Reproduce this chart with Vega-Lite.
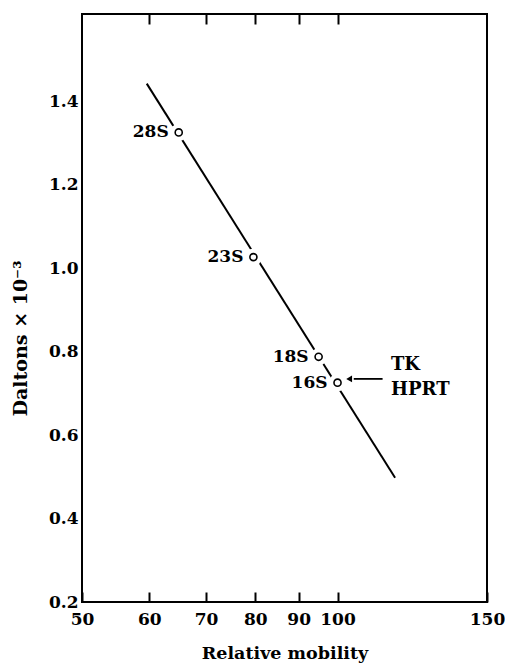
{
  "$schema": "https://vega.github.io/schema/vega-lite/v6.json",
  "width": 405,
  "height": 588,
  "autosize": "none",
  "padding": {"left": 82, "top": 14, "right": 18, "bottom": 63},
  "background": "white",
  "config": {
    "view": {"stroke": "black", "strokeWidth": 2},
    "font": "DejaVu Serif",
    "axis": {"labelFont": "DejaVu Serif", "titleFont": "DejaVu Serif", "labelFontWeight": "bold", "titleFontWeight": "bold", "labelColor": "black", "titleColor": "black", "labelFontSize": 17, "titleFontSize": 17.5, "grid": false, "domain": false}
  },
  "datasets": {
    "fit": [{"mobility": 59.6, "daltons": 1.443}, {"mobility": 116.9, "daltons": 0.498}],
    "rna": [
      {"mobility": 65, "daltons": 1.326, "label": "28S"},
      {"mobility": 79.6, "daltons": 1.027, "label": "23S"},
      {"mobility": 95, "daltons": 0.788, "label": "18S"},
      {"mobility": 100, "daltons": 0.726, "label": "16S"}
    ],
    "arrow": [{"mobility": 113, "mobility2": 104.5, "daltons": 0.735, "tip": 103.2}],
    "note": [{"mobility": 115.6, "daltons": 0.769, "text": "TK"}, {"mobility": 115.6, "daltons": 0.709, "text": "HPRT"}]
  },
  "resolve": {"axis": {"x": "independent"}},
  "layer": [
    {
      "data": {"name": "fit"},
      "mark": {"type": "line", "color": "black", "strokeWidth": 2},
      "encoding": {
        "x": {"field": "mobility", "type": "quantitative", "scale": {"type": "log", "domain": [50, 150], "nice": false},
          "axis": {"orient": "bottom", "title": "Relative mobility", "values": [50, 60, 70, 80, 90, 100, 150], "format": "d", "tickSize": -10, "tickWidth": 2, "tickColor": "black", "labelPadding": 19, "titleY": 51, "titleBaseline": "middle", "labelFlush": false, "labelOverlap": false}},
        "y": {"field": "daltons", "type": "quantitative", "scale": {"domain": [0.2, 1.61], "nice": false, "zero": false},
          "axis": {"values": [0.2, 0.4, 0.6, 0.8, 1.0, 1.2, 1.4], "format": ".1f", "ticks": false, "labelPadding": 4, "title": "Daltons × 10⁻³", "titleFontSize": 19, "titleAngle": 270, "titleAlign": "center", "titleBaseline": "middle", "titleX": -62, "titleY": 324, "labelFlush": false, "labelOverlap": false}}
      }
    },
    {
      "data": {"name": "rna"},
      "mark": {"type": "point", "shape": "circle", "filled": true, "color": "white", "size": 300, "opacity": 1},
      "encoding": {
        "x": {"field": "mobility", "type": "quantitative",
          "axis": {"orient": "top", "title": null, "values": [60, 70, 80, 90, 100], "labels": false, "tickSize": -10, "tickWidth": 2, "tickColor": "black"}},
        "y": {"field": "daltons", "type": "quantitative"}
      }
    },
    {
      "data": {"name": "rna"},
      "mark": {"type": "point", "shape": "circle", "filled": false, "color": "black", "size": 50, "strokeWidth": 1.6, "opacity": 1},
      "encoding": {
        "x": {"field": "mobility", "type": "quantitative", "axis": null},
        "y": {"field": "daltons", "type": "quantitative"}
      }
    },
    {
      "data": {"name": "rna"},
      "mark": {"type": "text", "align": "right", "baseline": "middle", "dx": -10, "fontSize": 17, "fontWeight": "bold", "font": "DejaVu Serif", "color": "black"},
      "encoding": {
        "x": {"field": "mobility", "type": "quantitative", "axis": null},
        "y": {"field": "daltons", "type": "quantitative"},
        "text": {"field": "label"}
      }
    },
    {
      "data": {"name": "arrow"},
      "mark": {"type": "rule", "color": "black", "strokeWidth": 1.8},
      "encoding": {
        "x": {"field": "mobility", "type": "quantitative", "axis": null},
        "x2": {"field": "mobility2"},
        "y": {"field": "daltons", "type": "quantitative"}
      }
    },
    {
      "data": {"name": "arrow"},
      "mark": {"type": "point", "shape": "triangle-left", "filled": true, "color": "black", "size": 45, "opacity": 1},
      "encoding": {
        "x": {"field": "tip", "type": "quantitative", "axis": null},
        "y": {"field": "daltons", "type": "quantitative"}
      }
    },
    {
      "data": {"name": "note"},
      "mark": {"type": "text", "align": "left", "baseline": "middle", "fontSize": 18, "fontWeight": "bold", "font": "DejaVu Serif", "color": "black"},
      "encoding": {
        "x": {"field": "mobility", "type": "quantitative", "axis": null},
        "y": {"field": "daltons", "type": "quantitative"},
        "text": {"field": "text"}
      }
    }
  ]
}
